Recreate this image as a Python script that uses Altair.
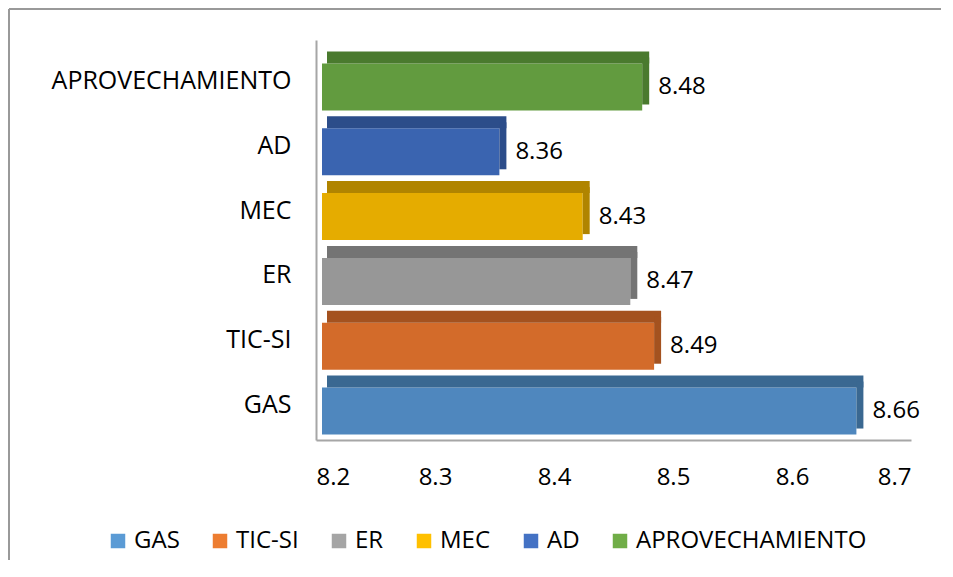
import altair as alt
import pandas as pd

categories = ["APROVECHAMIENTO", "AD", "MEC", "ER", "TIC-SI", "GAS"]
values = [8.48, 8.36, 8.43, 8.47, 8.49, 8.66]
front_colors = ["#629B3F", "#3A64B0", "#E5AC00", "#979797", "#D36B2A", "#4F87BE"]
dark_colors = ["#4A7A2E", "#2C4D8A", "#B08400", "#747474", "#A4521F", "#3A6891"]
legend_order = ["GAS", "TIC-SI", "ER", "MEC", "AD", "APROVECHAMIENTO"]
legend_colors = ["#5B9BD5", "#ED7D31", "#A5A5A5", "#FFC000", "#4472C4", "#70AD47"]
x_ticks = [8.2, 8.3, 8.4, 8.5, 8.6, 8.7]
x_min, x_max = 8.2, 8.7

df = pd.DataFrame({
    "cat": categories,
    "value": values,
    "base": [x_min] * len(categories),
    "dark": dark_colors,
    "front": front_colors,
    "label": [f"{v:.2f}" for v in values],
})

FONT = "Open Sans"
FS = 25

xs = alt.Scale(domain=[x_min, x_max], nice=False, zero=False)
ys = alt.Scale(domain=categories, paddingInner=0, paddingOuter=0.086, align=0.77)

y_enc = alt.Y("cat:N", scale=ys, sort=categories, title=None,
              axis=alt.Axis(labelFontSize=FS, labelFont=FONT, labelColor="#000000",
                            labelPadding=25, ticks=False, domain=True,
                            domainColor="#A6A6A6", domainWidth=2, labelLimit=400))
x_enc = alt.X("base:Q", scale=xs, title=None,
              axis=alt.Axis(values=x_ticks, format=".1f", labelFontSize=24,
                            labelFont=FONT, labelColor="#000000", labelPadding=25,
                            ticks=False, grid=False, domain=True,
                            domainColor="#A6A6A6", domainWidth=2))

base = alt.Chart(df)

front = base.mark_bar(size=47, yOffset=6, xOffset=6, x2Offset=-7).encode(
    y=y_enc,
    x=x_enc,
    x2="value:Q",
    fill=alt.Fill("front:N", scale=None),
)

top = base.mark_bar(size=12, yOffset=-23.5, xOffset=11, x2Offset=0).encode(
    y=alt.Y("cat:N", scale=ys, sort=categories),
    x=alt.X("base:Q", scale=xs),
    x2="value:Q",
    fill=alt.Fill("dark:N", scale=None),
)

side = base.mark_tick(orient="vertical", size=47, thickness=7, xOffset=-3.5, opacity=1).encode(
    y=alt.Y("cat:N", scale=ys, sort=categories),
    x=alt.X("value:Q", scale=xs),
    color=alt.Color("dark:N", scale=None),
)

labels = base.mark_text(align="left", baseline="middle", dx=9, dy=6,
                        fontSize=24, font=FONT, color="#000000").encode(
    y=alt.Y("cat:N", scale=ys, sort=categories),
    x=alt.X("value:Q", scale=xs),
    text="label:N",
)

legend_layer = base.mark_square(opacity=0).encode(
    y=alt.Y("cat:N", scale=ys, sort=categories),
    x=alt.X("base:Q", scale=xs),
    color=alt.Color("cat:N", scale=alt.Scale(domain=legend_order, range=legend_colors),
                    legend=alt.Legend(title=None, orient="none", direction="horizontal",
                                      legendX=-210, legendY=489, symbolType="square",
                                      symbolSize=210, symbolStrokeWidth=0,
                                      symbolOpacity=1,
                                      labelFontSize=24, labelFont=FONT,
                                      labelColor="#000000", columnPadding=28,
                                      labelOffset=4, labelLimit=400)),
)

frame_top = alt.Chart(pd.DataFrame({"k": [0]})).mark_rule(color="#999999", strokeWidth=2).encode(
    x=alt.value(-307), x2=alt.value(700), y=alt.value(-31))
frame_left = alt.Chart(pd.DataFrame({"k": [0]})).mark_rule(color="#999999", strokeWidth=2).encode(
    x=alt.value(-307), y=alt.value(-31), y2=alt.value(560))

chart = alt.layer(front, top, side, labels, legend_layer, frame_top, frame_left).properties(
    width=595, height=400,
    padding={"left": 308, "top": 32, "right": 30, "bottom": 120},
    autosize=alt.AutoSizeParams(type="none"),
).configure_view(stroke=None)

chart.save("out.html", embed_options={"renderer": "svg", "actions": False})
